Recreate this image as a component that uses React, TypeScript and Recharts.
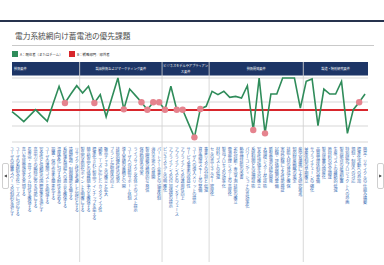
import { ComposedChart, Line, XAxis, YAxis, CartesianGrid, ReferenceLine, ReferenceArea } from 'recharts';

// 課題ごとの評価スコア（A：既往者、B：戦略部門）
const categories = [
  'ユーザの設置スペースの制約を満たす',
  'ユーザの系統安定化ニーズに対応する',
  '高い充放電効率を実現する',
  '長寿命・高サイクル特性を確保する',
  '高出力での瞬時応答を可能にする',
  '安全性と信頼性の国際基準を満たす',
  'ユーザの運用コストを削減する',
  '設置・保守作業を簡素化する',
  '温度変化に対する耐性を高める',
  '系統連系規程への適合を確保する',
  '遠隔監視・制御機能を備える',
  'リサイクル性を考慮した設計とする',
  '製品の差別化ポイントを明確にする',
  '競合製品との価格競争力を確保する',
  '標準化された製品ラインナップを揃える',
  '顧客ニーズに応じたカスタマイズ性',
  '販売チャネルの確立と拡大',
  'ブランド認知度の向上',
  '技術的優位性の訴求',
  '導入実績の蓄積と公開',
  'ユーザへの技術サポート体制',
  'ライフサイクル全体でのコスト提示',
  '保証制度の充実',
  '製品情報の積極的な発信',
  '海外市場への展開',
  'パートナー企業との協業体制',
  'ビジネスモデルの明確化',
  'アプライアンスの付加価値の提示',
  'アプライアンスとのインターフェース',
  'アプライアンスの運用性向上',
  'サービス事業の収益性',
  'ユーザへの導入メリットの提示',
  '資金調達スキームの整備',
  '事業リスクの分担と低減',
  'セルの高エネルギー密度化',
  '材料コストの低減',
  '製造プロセスの効率化',
  '電池管理システムの高度化',
  '劣化診断・寿命予測技術の確立',
  '熱管理技術の改善',
  'パワーコンディショナの高効率化',
  '系統制御との協調技術',
  '安全性評価手法の確立',
  '大規模システム化技術',
  '新型電池の研究開発',
  '試験・評価設備の整備',
  '実証試験による性能検証',
  '技術人材の育成と確保',
  '知的財産戦略の策定',
  '産学官連携による研究推進',
  '量産体制の早期確立',
  'サプライチェーンの強化',
  '品質管理体制の整備',
  '製造装置の国産化',
  '原材料の安定調達',
  '生産コストの継続的低減',
  '製造拠点の最適配置',
  '特別研究プロジェクトへの参画',
  '規制・制度への対応',
  '標準化活動への参加',
  '廃棄・リサイクルの仕組み構築',
];

const scoresA = [
  2.9, 2.6, 2.27, 2.65, 3.02, 2.65, 2.29, 3.4, 4.48, 3.44,
  4.0, 4.52, 4.06, 4.48, 3.44, 3.96, 2.58, 3.8, 5.0, 3.04,
  4.31, 3.9, 3.48, 3.02, 3.48, 3.48, 3.02, 4.48, 3.02, 3.02,
  2.15, 1.29, 3.06, 3.23, 4.17, 3.96, 4.17, 3.79, 3.85, 3.75,
  4.52, 1.75, 5.0, 1.54, 4.0, 4.0, 5.0, 5.0, 5.0, 3.12,
  4.79, 4.94, 2.02, 4.31, 4.0, 4.0, 4.79, 1.54, 3.02, 3.48, 4.0,
];

const scoresB: (number | null)[] = [
  null, null, null, null, null, null, null, null, null, 3.44,
  null, null, null, null, 3.44, null, null, null, null, 3.04,
  null, null, 3.48, 3.02, 3.48, 3.48, 3.02, null, 3.02, 3.02,
  null, 1.29, 3.06, null, null, null, null, null, null, null,
  null, 1.75, null, 1.54, null, null, null, null, null, null,
  null, null, null, null, null, null, null, null, null, 3.48, null,
];

const sectionNames = [
  ['技術要件'],
  ['製品技術およびマーケティング要件'],
  ['ビジネスモデルやアプライアン', 'ス要件'],
  ['技術開発要件'],
  ['製造・特別研究要件'],
];
const sectionEnds = [11, 25, 33, 49, 60];

const seriesNames = ['A：既往者（またはチーム）', 'B：戦略部門／部外者'];
const threshold = 3;
const yTicks = [1, 1.5, 2, 2.5, 3, 3.5, 4, 4.5, 5];

const GREEN = '#2f8c5a';
const RED = '#d8262c';
const PINK = '#e5838e';
const NAVY = '#1d3566';

const data = categories.map((label, i) => ({ idx: i, label, a: scoresA[i], b: scoresB[i] }));
const lastIdx = categories.length - 1;

function CategoryTick({ x, y, payload }: any) {
  return (
    <text
      x={x}
      y={y - 3}
      fill="#3b6db3"
      fontSize={4.1}
      textAnchor="start"
      style={{ writingMode: 'vertical-rl' }}
    >
      {categories[payload.value]}
    </text>
  );
}

function HeaderLabel({ viewBox, lines, left }: any) {
  const { x, y, width, height } = viewBox;
  const cx = left ? x + 2 : x + width / 2;
  const top = lines.length > 1 ? y + 4.6 : y + height / 2 + 1.2;
  return (
    <text x={cx} y={top} fill="#fff" fontSize={3.2} textAnchor={left ? 'start' : 'middle'}>
      {lines.map((l: string, k: number) => (
        <tspan key={k} x={cx} dy={k === 0 ? 0 : 6}>{l}</tspan>
      ))}
    </text>
  );
}

export default function App() {
  return (
    <div style={{ position: 'absolute', left: 0, top: 0, width: 384, height: 265, background: '#fff', overflow: 'hidden', fontFamily: '"Noto Sans CJK JP", "Noto Sans", sans-serif' }}>
      <div style={{ position: 'absolute', left: 0, top: 20, width: 384, height: 2, background: '#26324e' }} />
      <div style={{ position: 'absolute', left: 15, top: 31, fontSize: 7.7, lineHeight: '10px', color: '#4d4d4d', whiteSpace: 'nowrap' }}>
        電力系統網向け蓄電池の優先課題
      </div>
      <div style={{ position: 'absolute', left: 12, top: 45, width: 362, height: 1, background: '#c9c9c9' }} />

      <svg style={{ position: 'absolute', left: 12, top: 51 }} width={130} height={7}>
        <rect x={0} y={0} width={6} height={6} fill={GREEN} />
        <text x={8} y={4.6} fontSize={3.4} fill="#333">{seriesNames[0]}</text>
        <rect x={57} y={0} width={6} height={6} fill={RED} />
        <text x={65} y={4.6} fontSize={3.4} fill="#333">{seriesNames[1]}</text>
      </svg>

      <div style={{ position: 'absolute', left: 0, top: 0 }}>
        <ComposedChart width={384} height={265} data={data} margin={{ top: 78, right: 16, bottom: 8, left: 12 }}>
          <CartesianGrid vertical={false} stroke="#d2d2d2" strokeWidth={0.9} />
          <XAxis
            dataKey="idx"
            type="number"
            domain={[0, lastIdx + 0.5]}
            ticks={categories.map((_, i) => i)}
            interval={0}
            height={115}
            axisLine={false}
            tickLine={false}
            tick={<CategoryTick />}
          />
          <YAxis hide type="number" domain={[1, 5]} ticks={yTicks} />
          {sectionEnds.map((end, s) => {
            const start = s === 0 ? 0 : sectionEnds[s - 1] + 0.5;
            const stop = s === sectionEnds.length - 1 ? lastIdx + 0.5 : end + 0.5;
            return (
              <ReferenceArea
                key={'h' + s}
                x1={start}
                x2={stop}
                y1={5.16}
                y2={6}
                ifOverflow="visible"
                fill={NAVY}
                fillOpacity={1}
                stroke="none"
                label={<HeaderLabel lines={sectionNames[s]} left={s === 0} />}
              />
            );
          })}
          {sectionEnds.slice(0, -1).map((end, s) => (
            <ReferenceLine
              key={'d' + s}
              segment={[{ x: end + 0.5, y: 6 }, { x: end + 0.5, y: -6.5 }]}
              ifOverflow="visible"
              stroke="#cfcfcf"
              strokeWidth={0.8}
            />
          ))}
          <ReferenceLine y={threshold} stroke={RED} strokeWidth={2} />
          <Line
            type="linear"
            dataKey="a"
            name={seriesNames[0]}
            stroke={GREEN}
            strokeWidth={1.6}
            dot={false}
            isAnimationActive={false}
          />
          <Line
            type="linear"
            dataKey="b"
            name={seriesNames[1]}
            stroke="none"
            dot={{ r: 3.2, fill: PINK, stroke: 'none' }}
            activeDot={false}
            isAnimationActive={false}
          />
        </ComposedChart>
      </div>

      <div style={{ position: 'absolute', left: 2, top: 163, width: 5, height: 24, border: '1px solid #cfcfcf', borderRadius: 2 }}>
        <svg width={5} height={24} style={{ display: 'block' }}>
          <polygon points="1.2,12 3.8,10.4 3.8,13.6" fill="#333" />
        </svg>
      </div>
      <div style={{ position: 'absolute', left: 377, top: 163, width: 5, height: 24, border: '1px solid #cfcfcf', borderRadius: 2 }}>
        <svg width={5} height={24} style={{ display: 'block' }}>
          <polygon points="3.8,12 1.2,10.4 1.2,13.6" fill="#333" />
        </svg>
      </div>
    </div>
  );
}
